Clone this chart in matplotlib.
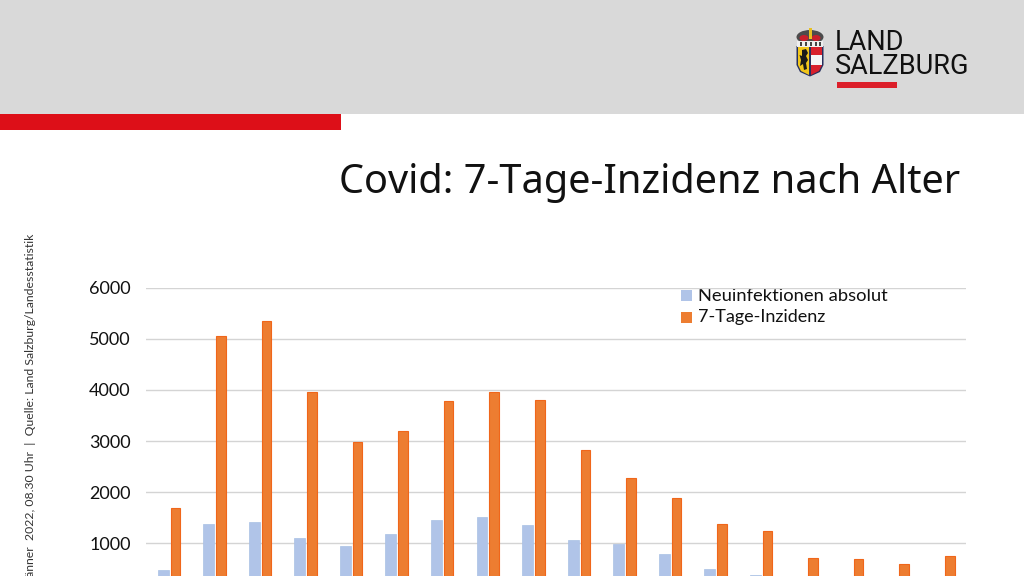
import matplotlib
matplotlib.use("Agg")
import matplotlib.pyplot as plt
from matplotlib.patches import Rectangle, Polygon, Ellipse

W, H = 1024, 576

groups = list(range(18))
neuinfektionen = [470, 1370, 1420, 1100, 940, 1190, 1450, 1520, 1350, 1060, 990, 800, 490, 390, 210, 160, 80, 40]
inzidenz = [1700, 5050, 5340, 3950, 2990, 3190, 3780, 3950, 3800, 2830, 2270, 1880, 1370, 1240, 720, 700, 590, 760]
y_ticks = [1000, 2000, 3000, 4000, 5000, 6000]
series_names = ["Neuinfektionen absolut", "7-Tage-Inzidenz"]

fig = plt.figure(figsize=(W / 100, H / 100), dpi=100)

# overlay in pixel coords for the banner and logo
bg = fig.add_axes([0, 0, 1, 1])
bg.set_xlim(0, W)
bg.set_ylim(H, 0)
bg.axis("off")
bg.add_patch(Rectangle((0, 0), W, 114, color="#d9d9d9", lw=0))
bg.add_patch(Rectangle((0, 114), 341, 16, color="#dd0f18", lw=0))
bg.add_patch(Rectangle((837, 82), 60, 6, color="#dc1f2a", lw=0))

# crest: shield
shield = [(796.5, 46), (823.5, 46), (823.5, 65), (820, 72), (810, 76.5), (800, 72), (796.5, 65)]
bg.add_patch(Polygon(shield, closed=True, facecolor="#27305e", edgecolor="none"))
bg.add_patch(Polygon([(798, 47), (809, 47), (809, 75), (801, 71), (798, 65)], closed=True,
                     facecolor="#f1c61c", edgecolor="none"))
bg.add_patch(Polygon([(811, 47), (822, 47), (822, 65), (819, 71), (811, 75)], closed=True,
                     facecolor="#d8202c", edgecolor="none"))
bg.add_patch(Rectangle((811, 55), 11, 9.5, color="#f5f5f5", lw=0))
# lion
bg.add_patch(Polygon([(802, 50), (806, 49), (808, 53), (806, 56), (808, 60), (806, 63), (807, 69), (804, 70),
                      (803, 64), (800, 66), (801, 60), (799.5, 55), (802, 56)], closed=True,
                     facecolor="#1a1a1a", edgecolor="none"))
# crown
bg.add_patch(Ellipse((810, 37), 27, 14, facecolor="#4c4c4c", edgecolor="none"))
bg.add_patch(Rectangle((797, 41), 26, 5.5, color="#eeeeee", lw=0))
for tooth in [801, 806, 811, 816, 820]:
    bg.add_patch(Rectangle((tooth - 0.7, 42), 1.4, 3.5, color="#444444", lw=0))
bg.add_patch(Ellipse((804, 38), 9, 6, facecolor="#c8202c", edgecolor="none"))
bg.add_patch(Ellipse((816, 38), 9, 6, facecolor="#c8202c", edgecolor="none"))
bg.add_patch(Rectangle((808.5, 28), 3, 11, color="#e8c020", lw=0))

bg.text(835, 43, "LAND", fontsize=19.5, family="Roboto", va="center", ha="left", color="#111111")
bg.text(835, 67, "SALZBURG", fontsize=19.5, family="Roboto", va="center", ha="left", color="#111111")

bg.text(960, 183, "Covid: 7-Tage-Inzidenz nach Alter", fontsize=28.6, family="Noto Sans", ha="right", va="center",
        color="#111111")
bg.text(31, 234, "Jänner  2022, 08.30 Uhr  |  Quelle: Land Salzburg/Landesstatistik", fontsize=8.8, family="Lato",
        rotation=90, ha="center", va="top", color="#333333")

# chart axes run past the bottom edge of the picture (zero line is cut off)
left, right, y0, y6000 = 146, 966, 594.5, 287.5
ax = fig.add_axes([left / W, (H - y0) / H, (right - left) / W, (y0 - y6000) / H])
ax.patch.set_alpha(0)
ax.set_xlim(-0.5, 17.5)
ax.set_ylim(0, 6000)
ax.set_yticks(y_ticks)
ax.set_yticklabels([str(v) for v in y_ticks], family="Lato", fontsize=13, color="#111111", va="center_baseline")
ax.tick_params(axis="y", length=0, pad=11)
ax.set_xticks([])
ax.grid(axis="y", color="#d4d4d4", lw=1)
ax.set_axisbelow(True)
for s in ax.spines.values():
    s.set_visible(False)

ax.bar([i - 0.125 for i in groups], neuinfektionen, width=0.24, color="#b0c4e8", edgecolor="#a9c0e4", lw=0.5)
ax.bar([i + 0.145 for i in groups], inzidenz, width=0.21, color="#ed7d31", edgecolor="#f0661a", lw=0.8)

# legend
bg.add_patch(Rectangle((681, 290), 11, 11, color="#b0c4e8", lw=0))
bg.add_patch(Rectangle((681, 312), 11, 11, color="#ed7d31", lw=0))
bg.text(698, 296, series_names[0], fontsize=13.2, family="Lato", va="center", ha="left", color="#111111")
bg.text(698, 317, series_names[1], fontsize=13, family="Lato", va="center", ha="left", color="#111111")

fig.savefig("out.png", dpi=100)
